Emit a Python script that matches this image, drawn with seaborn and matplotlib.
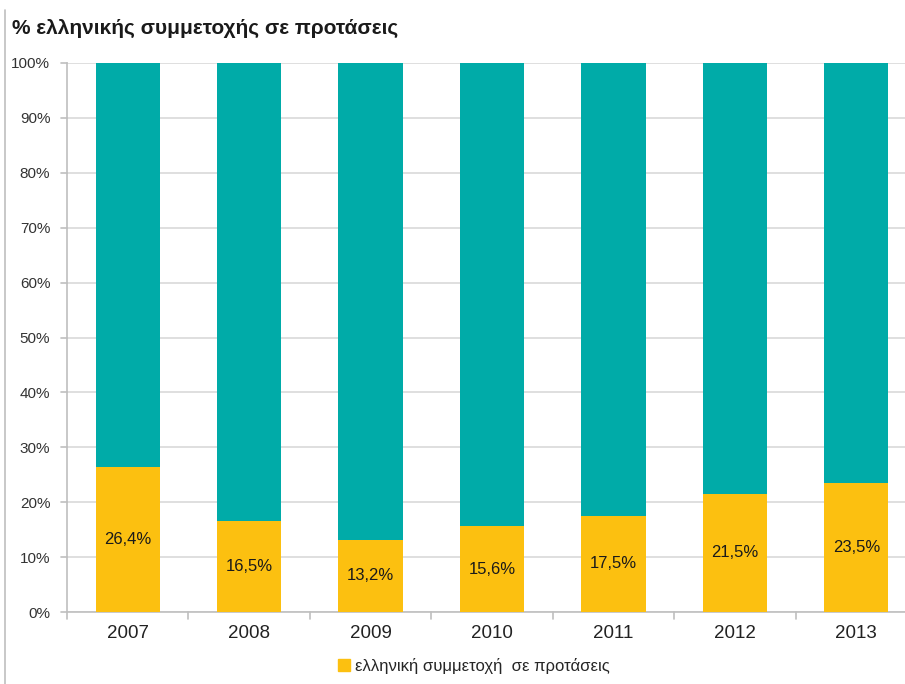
import matplotlib
matplotlib.use("Agg")
import matplotlib.pyplot as plt
import seaborn as sns
import pandas as pd
from matplotlib.lines import Line2D

years = ["2007", "2008", "2009", "2010", "2011", "2012", "2013"]
greek_share = [26.4, 16.5, 13.2, 15.6, 17.5, 21.5, 23.5]
total = [100, 100, 100, 100, 100, 100, 100]
labels = ["26,4%", "16,5%", "13,2%", "15,6%", "17,5%", "21,5%", "23,5%"]
ytick_vals = [0, 10, 20, 30, 40, 50, 60, 70, 80, 90, 100]

sns.set_theme(style="white")
plt.rcParams['font.family'] = ['Liberation Sans', 'DejaVu Sans']

TEAL = "#00ABA8"
YELLOW = "#FCC010"

W, H = 905, 684
fig = plt.figure(figsize=(W / 100, H / 100), dpi=100)
ax = fig.add_axes([67 / W, 1 - 612 / H, (917 - 67) / W, (612 - 63) / H])

df = pd.DataFrame({"year": years, "share": greek_share, "total": total})
sns.barplot(data=df, x="year", y="total", color=TEAL, width=0.53, ax=ax,
            saturation=1, edgecolor="none", zorder=2)
sns.barplot(data=df, x="year", y="share", color=YELLOW, width=0.53, ax=ax,
            saturation=1, edgecolor="none", zorder=3)

for i, (v, lab) in enumerate(zip(greek_share, labels)):
    ax.text(i, v / 2, lab, ha="center", va="center", fontsize=12, color="#1a1a1a", zorder=4)

ax.set_xlim(-0.5, 6.5)
ax.set_ylim(0, 100)
ax.set_yticks(ytick_vals)
ax.set_yticklabels([f"{v}%" for v in ytick_vals], fontsize=11, color="#333333")
ax.tick_params(axis="x", labelsize=13.5, colors="#222222", length=0, pad=9)
ax.tick_params(axis="y", length=0, pad=12)
ax.set_xlabel("")
ax.set_ylabel("")
ax.yaxis.grid(True, color="#D9D9D9", linewidth=1.2, zorder=0)
ax.set_axisbelow(True)
for s in ["top", "right"]:
    ax.spines[s].set_visible(False)
ax.spines["left"].set_color("#BFBFBF")
ax.spines["bottom"].set_color("#BFBFBF")
ax.spines["left"].set_linewidth(1.2)
ax.spines["bottom"].set_linewidth(1.2)

# category boundary tick marks on x axis and small ticks on y axis
for b in [i - 0.5 for i in range(8)]:
    ax.plot([b, b], [0, -1.2], color="#BFBFBF", lw=1.2, clip_on=False, zorder=1)
for v in ytick_vals:
    ax.plot([-0.5 - 0.05, -0.5], [v, v], color="#BFBFBF", lw=1.2, clip_on=False, zorder=1)

fig.text(12 / W, 1 - 28 / H, "% ελληνικής συμμετοχής σε προτάσεις", fontsize=15,
         fontweight="bold", ha="left", va="center", color="#1a1a1a")

# legend
handle = plt.Rectangle((0, 0), 1, 1, color=YELLOW)
fig.legend([handle], ["ελληνική συμμετοχή  σε προτάσεις"], loc="center",
           bbox_to_anchor=(474 / W, 1 - 666 / H), frameon=False, fontsize=12,
           handlelength=0.7, handleheight=0.7, handletextpad=0.3)

fig.add_artist(Line2D([5 / W, 5 / W], [0, 1 - 10 / H], color="#BFBFBF", lw=1.2,
                      transform=fig.transFigure))

fig.savefig("out.png", dpi=100)
